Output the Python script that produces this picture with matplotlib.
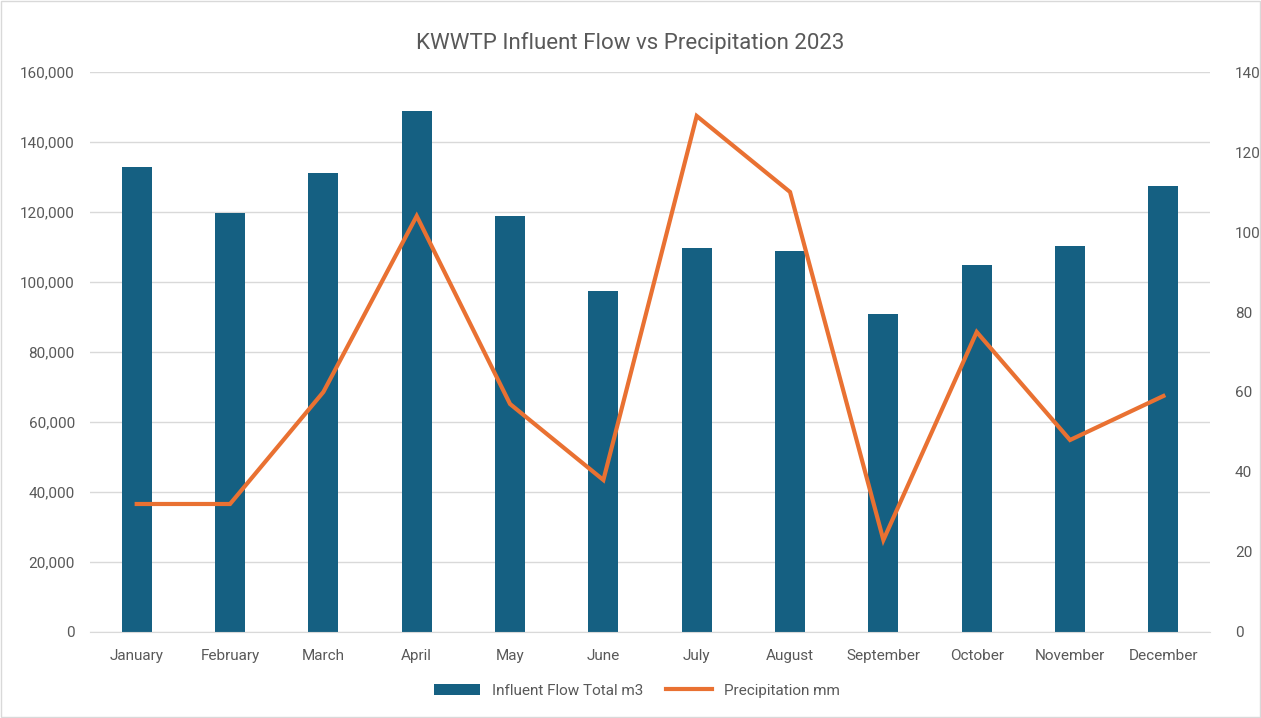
import numpy as np
import matplotlib.pyplot as plt
from matplotlib.ticker import FuncFormatter

plt.rcParams['font.family'] = ['Roboto', 'DejaVu Sans']

# data
months = ['January', 'February', 'March', 'April', 'May', 'June',
          'July', 'August', 'September', 'October', 'November', 'December']
flow_m3 = [132900, 119700, 131100, 149000, 118900, 97400,
           109700, 108900, 90900, 104900, 110300, 127400]
precip_mm = [32, 32, 60, 104, 57, 38, 129, 110, 23, 75, 48, 59]

bar_col = '#156082'
line_col = '#E97132'
txt_col = '#595959'
grid_col = '#D9D9D9'

fig = plt.figure(figsize=(12.61, 7.18), dpi=100)
ax = fig.add_axes([0.0714, 0.1198, 0.8882, 0.7799])
ax2 = ax.twinx()

x = np.arange(len(months))
ax.bar(x, flow_m3, width=0.32, color=bar_col, zorder=2, label='Influent Flow Total m3')
ax2.plot(x, precip_mm, color=line_col, lw=3, solid_joinstyle='miter', zorder=3, label='Precipitation mm')

ax.set_xlim(-0.5, len(months) - 0.5)
ax.set_ylim(0, 160000)
ax.set_yticks(np.arange(0, 160001, 20000))
ax.yaxis.set_major_formatter(FuncFormatter(lambda v, p: f'{int(v):,}'))
ax2.set_ylim(0, 140)
ax2.set_yticks(np.arange(0, 141, 20))

ax.set_xticks(x)
ax.set_xticklabels(months)
ax.grid(axis='y', color=grid_col, lw=1, zorder=0)
ax.set_axisbelow(True)

for a in (ax, ax2):
    for s in a.spines.values():
        s.set_visible(False)
    a.tick_params(length=0, labelsize=11, colors=txt_col)
ax.spines['bottom'].set_visible(True)
ax.spines['bottom'].set_color(grid_col)
ax.tick_params(axis='x', pad=12)
ax.tick_params(axis='y', pad=11)
ax2.tick_params(axis='y', pad=18)

fig.suptitle('KWWTP Influent Flow vs Precipitation 2023', y=0.955, fontsize=16, color=txt_col)

h1, l1 = ax.get_legend_handles_labels()
h2, l2 = ax2.get_legend_handles_labels()
fig.legend(h1 + h2, l1 + l2, loc='center', bbox_to_anchor=(0.505, 0.038), ncol=2,
           frameon=False, fontsize=11, labelcolor=txt_col, handlelength=3, columnspacing=1.5)

fig.patches.append(plt.Rectangle((0.001, 0.001), 0.998, 0.998, transform=fig.transFigure,
                                 fill=False, edgecolor=grid_col, lw=1))

fig.savefig('out.png', dpi=100)
